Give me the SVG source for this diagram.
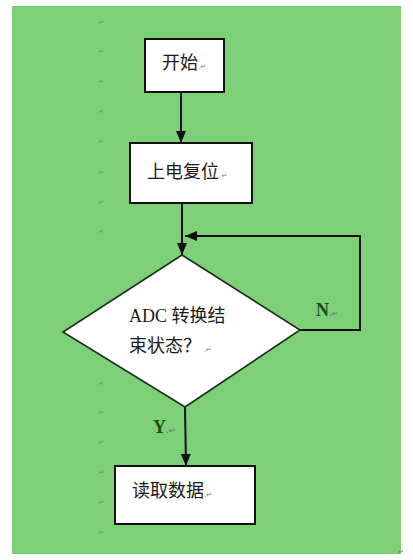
<svg xmlns="http://www.w3.org/2000/svg" width="413" height="560" viewBox="0 0 413 560">
<defs>
<style>
.box{fill:#ffffff;stroke:#111111;stroke-width:2}
.dia{fill:#ffffff;stroke:#1c2e1c;stroke-width:1.6}
.lbl{font-family:"Noto Sans CJK SC","Liberation Sans",sans-serif;font-size:18px;fill:#1a1a1a}
.en{font-family:"Liberation Serif","Noto Sans CJK SC",serif;font-size:18px;fill:#1a1a1a}
.yn{font-family:"Liberation Serif",serif;font-size:18px;font-weight:bold;fill:#1d4d1d}
.pm{font-family:"DejaVu Sans",sans-serif;font-size:6px;fill:#5f8f5c}
.sm{font-family:"DejaVu Sans",sans-serif;font-size:7px;fill:#777777}
.wire{fill:none;stroke:#111111;stroke-width:2}
</style>
<marker id="ah" viewBox="0 0 12 12" refX="12" refY="6" markerWidth="12" markerHeight="12" markerUnits="userSpaceOnUse" orient="auto">
<path d="M0,1 L12,6 L0,11 Z" fill="#111111"/>
</marker>
</defs>
<rect x="0" y="0" width="413" height="560" fill="#ffffff"/>
<rect x="12" y="6" width="389" height="548" fill="#7dcf78"/>
<g id="marks">
<text class="pm" x="97" y="24">.↵</text>
<text class="pm" x="97" y="53">.↵</text>
<text class="pm" x="97" y="83">.↵</text>
<text class="pm" x="97" y="113">.↵</text>
<text class="pm" x="97" y="143">.↵</text>
<text class="pm" x="97" y="174">.↵</text>
<text class="pm" x="97" y="204">.↵</text>
<text class="pm" x="97" y="233">.↵</text>
<text class="pm" x="97" y="385">.↵</text>
<text class="pm" x="97" y="414">.↵</text>
<text class="pm" x="97" y="444">.↵</text>
<text class="pm" x="97" y="474">.↵</text>
<text class="pm" x="97" y="504">.↵</text>
<text class="pm" x="97" y="534">.↵</text>
<text class="sm" x="398" y="554" font-size="9">↵</text>
</g>
<g id="connectors">
<line class="wire" x1="181" y1="92" x2="181" y2="143" marker-end="url(#ah)"/>
<line class="wire" x1="182" y1="203" x2="182" y2="255" marker-end="url(#ah)"/>
<polyline class="wire" points="300,330 360,330 360,236 185,236" marker-end="url(#ah)"/>
<line class="wire" x1="185" y1="407" x2="186" y2="466" marker-end="url(#ah)"/>
<text class="yn" x="316" y="316">N<tspan class="sm">.↵</tspan></text>
<text class="yn" x="153" y="433">Y<tspan class="sm">.↵</tspan></text>
</g>
<g id="start">
<rect class="box" x="145" y="39" width="79" height="53"/>
<text class="lbl" x="162" y="69">开始<tspan class="sm">.↵</tspan></text>
</g>
<g id="reset">
<rect class="box" x="130" y="143" width="122" height="60"/>
<text class="lbl" x="147" y="178">上电复位<tspan class="sm">.↵</tspan></text>
</g>
<g id="check">
<polygon class="dia" points="182,255 300,330 185,407 63,332"/>
<text class="en" x="129" y="322">ADC <tspan class="lbl">转换结</tspan></text>
<text class="lbl" x="129" y="352">束状态？<tspan class="sm"> .↵</tspan></text>
</g>
<g id="read">
<rect class="box" x="115" y="466" width="140" height="58"/>
<text class="lbl" x="132" y="497">读取数据<tspan class="sm">.↵</tspan></text>
</g>
</svg>
